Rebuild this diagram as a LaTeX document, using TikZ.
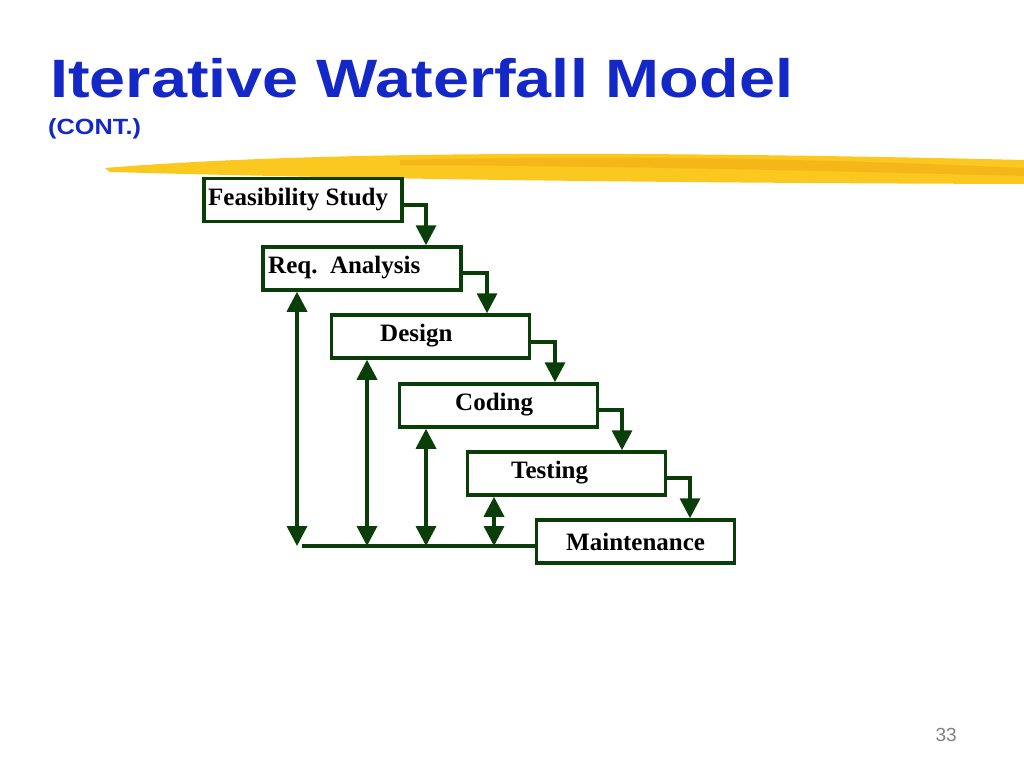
\documentclass[tikz,border=0pt]{standalone}
\usepackage{fontspec}
\setmainfont{Liberation Serif}
\newfontfamily\titlefont{Liberation Sans}
\usetikzlibrary{arrows.meta}
\definecolor{dg}{RGB}{10,62,8}
\definecolor{tblue}{RGB}{20,40,200}
\definecolor{ylw}{RGB}{250,200,30}
\definecolor{org}{RGB}{240,170,20}
\begin{document}
\begin{tikzpicture}[x=1pt,y=-1pt,
  box/.style={draw=dg,line width=3.5pt,minimum width=198pt,minimum height=43pt,inner sep=0pt},
  lbl/.style={font=\fontsize{25}{27}\selectfont\bfseries,anchor=west,inner sep=0pt},
  conn/.style={draw=dg,line width=3.5pt,-{Triangle[length=20pt,width=20pt]}},
  dbl/.style={draw=dg,line width=3.5pt,{Triangle[length=20pt,width=20pt]}-{Triangle[length=20pt,width=20pt]}}]
\useasboundingbox (0,0) rectangle (1024,768);
% brush stroke
\fill[ylw] (105,168) .. controls (300,152) and (600,150) .. (1024,160) -- (1024,184) .. controls (700,183) and (400,180) .. (110,172) -- cycle;
\fill[org,opacity=0.6] (400,160) .. controls (600,155) and (800,158) .. (1024,168) -- (1024,176) .. controls (800,170) and (600,166) .. (400,165) -- cycle;
% title
\node[anchor=base west,text=tblue,font=\titlefont\fontsize{54}{60}\selectfont\bfseries,inner sep=0pt,xscale=1.2] (title) at (50,97) {Iterative Waterfall Model};
\node[anchor=base west,text=tblue,font=\titlefont\fontsize{22}{24}\selectfont\bfseries,inner sep=0pt,xscale=1.15] (cont) at (48,134) {(CONT.)};
\node[anchor=base east,text=gray,font=\titlefont\fontsize{19}{22}\selectfont,inner sep=0pt] (pg) at (957,741) {33};
% boxes
\node[box] (f) at (303,200) {};
\node[box] (r) at (362,268.5) {};
\node[box] (d) at (430.5,336.5) {};
\node[box] (c) at (498.5,405.5) {};
\node[box] (t) at (566.5,473.5) {};
\node[box] (m) at (635.5,541.5) {};
\node[lbl] at (208,200) {Feasibility Study};
\node[lbl] at (268,268) {Req.\ \ Analysis};
\node[lbl] at (380,336) {Design};
\node[lbl] at (455,405) {Coding};
\node[lbl] at (511,473) {Testing};
\node[lbl] at (566,542) {Maintenance};
% forward arrows
\draw[conn] (f.east |- 0,205) -| (r.north -| 426,0);
\draw[conn] (r.east |- 0,273) -| (d.north -| 487,0);
\draw[conn] (d.east |- 0,342) -| (c.north -| 555,0);
\draw[conn] (c.east |- 0,410) -| (t.north -| 622,0);
\draw[conn] (t.east |- 0,478) -| (m.north -| 690,0);
% feedback
\coordinate (b) at (302,546);
\draw[draw=dg,line width=3.5pt] (b) -- (m.west |- b);
\draw[dbl] (r.south -| 297,0) -- (297,546);
\draw[dbl] (d.south -| 367,0) -- (367,546);
\draw[dbl] (c.south -| 426,0) -- (426,546);
\draw[dbl] (t.south -| 494,0) -- (494,546);
\end{tikzpicture}
\end{document}
